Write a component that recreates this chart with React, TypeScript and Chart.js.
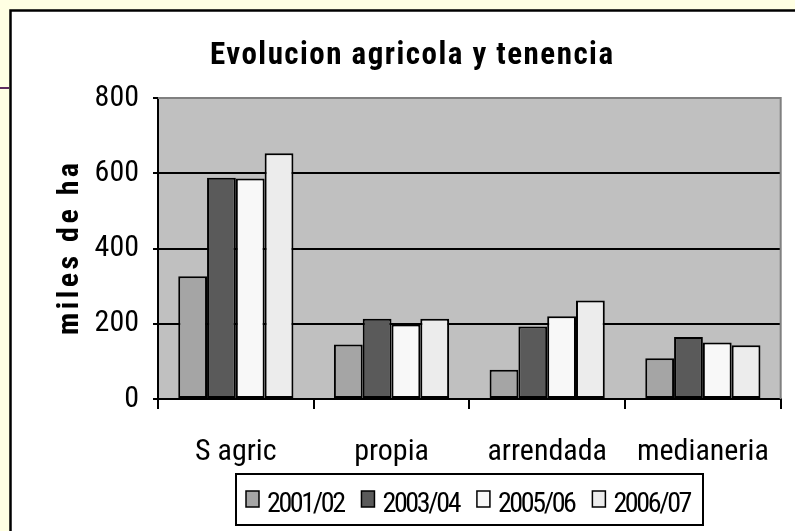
import React, { useEffect, useRef } from "react";
import { Chart, registerables } from "chart.js";
Chart.register(...registerables);

const chartTitle = "Evolucion agricola y tenencia";
const yAxisTitle = "miles de ha";
const categories = ["S agric", "propia", "arrendada", "medianeria"];
const seriesLabels = ["2001/02", "2003/04", "2005/06", "2006/07"];
const values2001 = [326, 145, 78, 108];
const values2003 = [588, 213, 193, 165];
const values2005 = [586, 198, 220, 150];
const values2006 = [653, 213, 262, 143];
const yTickValues = [0, 200, 400, 600, 800];
const seriesColors = ["#A5A5A5", "#5A5A5A", "#F8F8F8", "#ECECEC"];

const FONT = "'Roboto Condensed', 'Liberation Sans', Arial, sans-serif";

function spacedText(ctx: any, text: string, targetWidth: number) {
  ctx.letterSpacing = "0px";
  const w = ctx.measureText(text).width;
  const n = Math.max(1, text.length - 1);
  const s = (targetWidth - w) / n;
  ctx.letterSpacing = `${s}px`;
  return s;
}

const framePlugin = {
  id: "frame",
  beforeDraw(chart: any) {
    const { ctx, chartArea: a } = chart;
    const W = chart.width, H = chart.height;
    ctx.save();
    ctx.fillStyle = "#FFFFE3";
    ctx.fillRect(0, 0, W, H);
    ctx.fillStyle = "#FFFFFF";
    ctx.fillRect(10, 10, W, H);
    ctx.strokeStyle = "#000";
    ctx.lineWidth = 2.5;
    ctx.beginPath();
    ctx.moveTo(10.5, H + 5);
    ctx.lineTo(10.5, 10.5);
    ctx.lineTo(W + 5, 10.5);
    ctx.stroke();
    ctx.strokeStyle = "#5E2C5E";
    ctx.lineWidth = 2;
    ctx.beginPath();
    ctx.moveTo(0, 88);
    ctx.lineTo(9, 88);
    ctx.stroke();
    ctx.fillStyle = "#C0C0C0";
    ctx.fillRect(a.left, a.top, a.right - a.left, a.bottom - a.top);
    // title
    ctx.fillStyle = "#000";
    ctx.font = `bold 31px ${FONT}`;
    ctx.textAlign = "left";
    ctx.textBaseline = "alphabetic";
    spacedText(ctx, chartTitle, 403);
    ctx.fillText(chartTitle, 210, 64);
    // y axis title
    ctx.font = `bold 30px ${FONT}`;
    ctx.translate(78, 335);
    ctx.rotate(-Math.PI / 2);
    spacedText(ctx, yAxisTitle, 172);
    ctx.fillText(yAxisTitle, 0, 0);
    ctx.letterSpacing = "0px";
    ctx.restore();
  },
  afterDatasetsDraw(chart: any) {
    const { ctx, chartArea: a } = chart;
    ctx.save();
    ctx.strokeStyle = "#808080";
    ctx.lineWidth = 2;
    ctx.beginPath();
    ctx.moveTo(a.left, a.top);
    ctx.lineTo(a.right, a.top);
    ctx.lineTo(a.right, a.bottom);
    ctx.stroke();
    ctx.restore();
  },
  afterDraw(chart: any) {
    const { ctx } = chart;
    ctx.save();
    const bx = 236, by = 474, bw = 467, bh = 51;
    ctx.fillStyle = "#FFFFFF";
    ctx.fillRect(bx, by, bw, bh);
    ctx.strokeStyle = "#000";
    ctx.lineWidth = 2;
    ctx.strokeRect(bx, by, bw, bh);
    ctx.font = `28px ${FONT}`;
    spacedText(ctx, "2001/02", 79);
    const sq = 13, gapBT = 8;
    const ds = chart.data.datasets;
    const widths = ds.map((d: any) => ctx.measureText(d.label).width);
    let natural = 0;
    widths.forEach((w: number) => (natural += sq + gapBT + w));
    const startX = bx + 10, endX = bx + bw - 13;
    const gapItem = (endX - startX - natural) / (ds.length - 1);
    let x = startX;
    ctx.textAlign = "left";
    ctx.textBaseline = "alphabetic";
    ds.forEach((d: any, i: number) => {
      ctx.fillStyle = d.backgroundColor;
      ctx.fillRect(x, 491, sq, 16);
      ctx.strokeStyle = "#000";
      ctx.lineWidth = 1.5;
      ctx.strokeRect(x, 491, sq, 16);
      ctx.fillStyle = "#000";
      ctx.fillText(d.label, x + sq + gapBT, 512);
      x += sq + gapBT + widths[i] + gapItem;
    });
    ctx.letterSpacing = "0px";
    ctx.restore();
  },
};

export default function App() {
  const ref = useRef<HTMLCanvasElement>(null);
  useEffect(() => {
    const allValues = [values2001, values2003, values2005, values2006];
    const chart = new Chart(ref.current!, {
      type: "bar",
      data: {
        labels: categories,
        datasets: seriesLabels.map((label, i) => ({
          label,
          data: allValues[i],
          backgroundColor: seriesColors[i],
          borderColor: "#000",
          borderWidth: 2,
          borderSkipped: false,
          categoryPercentage: 0.74,
          barPercentage: 1,
        })),
      },
      options: {
        animation: false,
        responsive: false,
        devicePixelRatio: 1,
        layout: { padding: { top: 98, right: 10, left: 0, bottom: 0 } },
        plugins: {
          legend: { display: false },
          title: { display: false },
          tooltip: { enabled: false },
        },
        scales: {
          x: {
            grid: {
              drawOnChartArea: false,
              drawTicks: true,
              tickLength: 10,
              color: "#000",
              lineWidth: 2,
            },
            border: { color: "#000", width: 2 },
            ticks: {
              color: "#000",
              font: { family: FONT, size: 30 },
              padding: 25,
              maxRotation: 0,
            },
            afterFit(scale: any) {
              scale.height = 132;
            },
          },
          y: {
            min: 0,
            max: 800,
            afterBuildTicks(scale: any) {
              scale.ticks = yTickValues.map((v) => ({ value: v }));
            },
            grid: {
              color: (c: any) => (c.tick && c.tick.value === 800 ? "#808080" : "#000"),
              tickColor: "#000",
              lineWidth: 2,
              tickLength: 5,
            },
            border: { color: "#000", width: 2 },
            ticks: {
              color: "#000",
              font: { family: FONT, size: 30 },
              padding: 14,
            },
            afterFit(scale: any) {
              scale.width = 158;
            },
          },
        },
      },
      plugins: [framePlugin],
    } as any);
    return () => chart.destroy();
  }, []);
  return (
    <div style={{ position: "fixed", left: 0, top: 0, width: 795, height: 531 }}>
      <canvas ref={ref} width={795} height={531} style={{ display: "block", width: 795, height: 531 }} />
    </div>
  );
}
